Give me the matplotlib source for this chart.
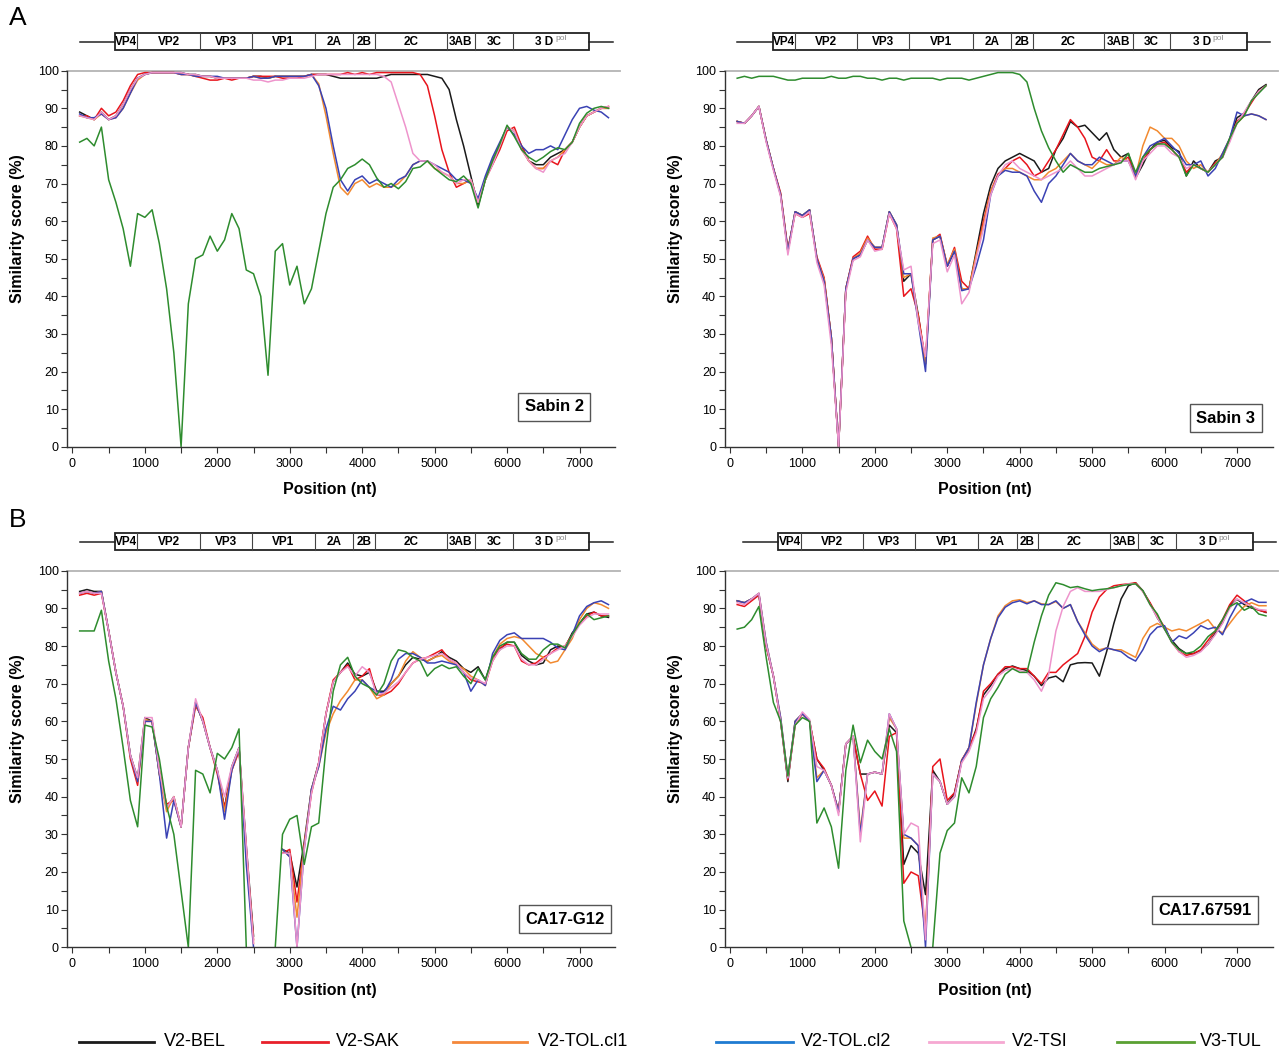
import numpy as np
import matplotlib.pyplot as plt
from matplotlib.patches import Rectangle
from matplotlib.lines import Line2D
from matplotlib.ticker import MultipleLocator

plt.rcParams['font.family'] = ['Liberation Sans', 'DejaVu Sans']

nan = np.nan
# window position (nt), one value every 100 nt
pos = np.arange(100, 7500, 100)

# ---------------- Sabin 2 ----------------
s2_bel = [89, 88, 87, 89, 87, 88, 91, 95, 98, 99,
          99.5, 99.5, 99.5, 99.5, 99.5, 99, 99, 98.5, 98.5, 98,
          98, 98, 98, 98, 98.5, 98.5, 98, 98.5, 98.5, 98.5,
          98.5, 98.5, 99, 99, 99, 98.5, 98, 98, 98, 98,
          98, 98, 98.5, 99, 99, 99, 99, 99, 99, 98.5,
          98, 95, 87, 80, 72, 64, 71, 76, 80, 85,
          84, 80, 76, 75, 75, 77, 78, 79, 81, 85,
          88, 89, 90, 90]
s2_sak = [88, 88, 87, 90, 88, 89, 92, 96, 99, 99.5,
          99.5, 99.5, 99.5, 99.5, 99, 99, 98.5, 98, 97.5, 97.5,
          98, 97.5, 98, 98, 98.5, 98.5, 98.5, 98.5, 98, 98,
          98, 98.5, 99, 99, 99, 99, 99, 99.5, 99, 99.5,
          99, 99.5, 99.5, 99.5, 99.5, 99.5, 99.5, 99, 96, 88,
          79, 73, 69, 70, 71, 65, 71, 75, 79, 84,
          85, 80, 76, 74, 74, 76, 75, 79, 81, 85,
          88, 89, 90, 90.5]
s2_tol1 = [88, 87.5, 87, 88.5, 87, 87.5, 90, 94, 97.5, 99,
           99.5, 99.5, 99.5, 99.5, 99, 99, 98.5, 98.5, 98.5, 98,
           98, 98, 98, 98, 98.5, 98, 98, 98.5, 98.5, 98.5,
           98.5, 98.5, 99, 96.5, 88, 78, 69, 67, 70, 71,
           69, 70, 69, 69, 70, 72, 75, 76, 76, 74,
           73, 72, 70, 70, 71, 65, 71, 76, 80, 85,
           84, 79, 76, 74, 74, 76, 77, 79, 81, 85,
           88, 89, 90, 90]
s2_tol2 = [88.5, 87.5, 87.5, 88.5, 87, 87.5, 90, 94, 98, 99,
           99.5, 99.5, 99.5, 99.5, 99, 99, 98.5, 98.5, 98.5, 98.5,
           98, 98, 98, 98, 98.5, 98, 98, 98.5, 98.5, 98.5,
           98.5, 98.5, 99, 96, 90, 80, 71, 68, 71, 72,
           70, 71, 70, 69, 71, 72, 75, 76, 76, 75,
           74, 73, 71, 71, 70, 66, 72, 77, 81, 85,
           83, 80, 78, 79, 79, 80, 79, 83, 87, 90,
           90.5, 89.5, 89, 87.5]
s2_tsi = [88, 87.5, 87, 89, 87, 88, 91, 95, 98, 99,
          99.5, 99.5, 99.5, 99.5, 99.5, 99, 99, 98.5, 98.5, 98,
          98, 98, 98, 98, 97.5, 97.5, 97, 97.5, 97.5, 98,
          98, 98, 98.5, 99, 99, 99, 99, 99, 99, 99,
          99, 99, 98.5, 97, 91, 85, 78, 76, 76, 75,
          73, 72, 70, 71, 71, 65, 71, 75, 80, 85,
          84, 79, 76, 74, 73, 76, 77, 78, 81, 85,
          88, 89, 90, 90.5]
s2_tul = [81, 82, 80, 85, 71, 65, 58, 48, 62, 61,
          63, 54, 42, 25, 0, 38, 50, 51, 56, 52,
          55, 62, 58, 47, 46, 40, 19, 52, 54, 43,
          48, 38, 42, 52, 62, 69, 71, 74, 75, 76.5,
          75, 71.5, 69, 70, 68.6, 70.5, 74, 74.4, 76, 74,
          72.5, 71, 70.5, 72, 70, 63.5, 71, 76, 80.5, 85.5,
          82.5, 79, 77, 75.8, 77, 78.5, 79.5, 79, 81, 86,
          88.7, 90, 90.5, 90]

# ---------------- Sabin 3 ----------------
s3_bel = [86.5, 86, 88, 90.5, 81.5, 74, 67, 52, 62.5, 61.5,
          63, 50, 44.5, 29, 0, 42, 50, 51, 55, 53,
          53, 62.5, 59, 44, 46, 35, 22, 55, 56, 48,
          52, 42, 42, 52, 62, 69.5, 74, 76, 77, 78,
          77, 76, 73, 74, 79, 82, 86.5, 85, 85.5, 83.5,
          81.5, 83.5, 79, 77, 78, 71.5, 75, 79, 81, 81.5,
          79.5, 78.5, 72, 76, 74, 73, 76, 77, 82, 87.5,
          88.7, 92, 95, 96.3]
s3_sak = [86.5, 86, 88, 90.5, 81.5, 74, 67.5, 52.5, 62, 61,
          62, 50.5, 45, 29, 0, 42, 50.5, 52, 56, 52.5,
          52.5, 62, 58, 40, 42, 35, 23, 55, 56.5, 48,
          53, 44, 42, 51, 60, 68, 72.5, 74, 76, 77,
          75, 72, 73, 76, 79, 83, 87, 85, 82, 77,
          76, 79, 76, 76, 77, 72, 76, 79, 80.5, 81,
          79, 77, 73, 75, 74, 73, 75.5, 77, 81.5, 86.5,
          88.5, 91.5, 94.5, 96]
s3_tol1 = [86.5, 86, 88, 90.5, 81.5, 74, 67, 52, 62.5, 61.5,
           63, 50, 44.5, 29, 0, 42, 50, 51.5, 55.5, 53,
           53, 62.5, 59, 45, 46, 34, 22, 55.5, 56, 48.5,
           52.5, 42, 42, 51, 59, 68, 72, 74, 74, 73,
           72, 71, 71, 73, 74, 76, 78, 76, 75, 74,
           76, 75, 75, 77, 76, 72, 80, 85, 84, 82,
           82, 80, 76, 74, 75, 73, 75, 78, 82, 86,
           88, 88.5, 88, 87]
s3_tol2 = [86.5, 86, 88, 90.5, 81.5, 74, 67, 52, 62.5, 61.5,
           63, 50, 44, 29, 0, 42, 50, 51, 55, 53,
           53, 62.5, 59, 46, 46, 33, 20, 55, 56, 48,
           52, 41.5, 42, 48, 55, 67, 72, 73.5, 73, 73,
           72, 68, 65, 70, 72, 75, 78, 76, 75, 75,
           77, 76, 75, 76, 76, 72, 77, 80, 81, 82,
           80, 78, 75, 75, 76, 72, 74, 78, 82, 89,
           88, 88.5, 88, 87]
s3_tsi = [86, 86, 88, 90.5, 81, 73.5, 66.5, 51, 62, 61,
          62.5, 49, 43, 27, 0, 41, 49.5, 50.5, 55, 52,
          52.5, 62, 58, 47, 48, 33, 24, 54, 55, 46.5,
          51, 38, 41, 50, 58, 67, 72, 75, 76, 74,
          73, 72, 71, 72, 73, 74, 76, 74, 72, 72,
          73, 74, 75, 76, 76, 71, 76, 78, 80, 80,
          78, 77, 74, 75, 74, 73, 75, 77, 81, 86,
          89, 92, 94.5, 96]
s3_tul = [98, 98.5, 98, 98.5, 98.5, 98.5, 98, 97.5, 97.5, 98,
          98, 98, 98, 98.5, 98, 98, 98.5, 98.5, 98, 98,
          97.5, 98, 98, 97.5, 98, 98, 98, 98, 97.5, 98,
          98, 98, 97.5, 98, 98.5, 99, 99.5, 99.5, 99.5, 99,
          97, 90, 84, 79.5, 76, 73, 75, 74, 73, 73,
          74, 74.5, 75, 75.5, 78, 73, 77, 79, 80.5, 80.5,
          79, 77, 72, 75, 74, 73, 75, 77, 82, 86,
          88, 92, 94, 96]

# ---------------- CA17-G12 ----------------
g12_bel = [94.5, 95, 94.5, 94.5, 84, 73, 64, 51, 45, 61,
           60, 46, 37, 40, 32, 53, 65, 60, 53, 47,
           37, 48, 53, 27, 3, nan, nan, nan, 26, 25,
           16, 28, 42, 49, 62, 70.5, 73, 75.5, 72.5, 72,
           73, 68, 68, 70, 72, 75, 77, 76.5, 76, 77,
           78.5, 77, 76, 74, 73, 74.5, 71, 77, 79, 81,
           81, 77.5, 76, 75, 75.5, 79, 80, 79.6, 83.5, 86,
           88.5, 89, 88, 87.6]
g12_sak = [93.5, 94, 93.5, 94, 84, 73, 64, 50, 43, 60,
           60, 47, 38, 39, 32, 53, 64, 61, 53, 46,
           37, 47, 52, 26, 2, nan, nan, nan, 25, 26,
           12, 27, 41, 49, 62, 71, 73, 75, 71, 72,
           74, 67, 67, 68, 70, 73, 75.5, 76.5, 77, 78,
           79, 76.5, 75.5, 73, 71, 70.5, 70, 76, 79.5, 80.5,
           80, 76, 75, 75.5, 77, 78, 79.5, 80, 83, 86,
           88, 89, 88, 88]
g12_tol1 = [94, 94.5, 94, 94.5, 84, 73, 64, 51, 44, 60.5,
            60, 46, 36, 40, 32, 53, 65, 60, 53, 47,
            36, 47, 53, 25, 1, nan, nan, nan, 26, 24,
            8, 27, 42, 48, 57, 62, 65.5, 68, 71, 71,
            69, 66, 67, 70, 72, 76, 78.5, 77, 76, 77,
            77.5, 76, 75, 74, 72, 71, 69.5, 77, 80.5, 82,
            82.5, 82, 80, 78, 77, 75.5, 76, 79, 82, 87,
            90, 91.5, 91, 90]
g12_tol2 = [94, 94.5, 94, 94.5, 84, 73, 64, 51, 44, 60,
            60, 46, 29, 39, 32, 53, 65, 60, 53, 47,
            34, 47, 53, 22, 0, nan, nan, nan, 26, 24,
            0, 26, 42, 48, 58, 64, 63, 66, 68, 71,
            69, 68, 67.5, 71, 76.5, 78, 78, 77, 75.5, 75.5,
            76, 75.5, 75, 73, 68, 71, 69.5, 78, 81.5, 83,
            83.5, 82, 82, 82, 82, 81, 79.5, 79, 83, 88,
            90.5, 91.5, 92, 91]
g12_tsi = [94, 94.5, 94, 94, 84, 73, 64, 51, 45, 61,
           61, 47, 37, 40, 32, 53, 66, 60, 53, 47,
           40, 48, 53, 27, 1, nan, nan, nan, 25, 25,
           0, 26, 41, 49, 62, 70.5, 73, 74.5, 72, 74.5,
           73, 67, 67.5, 69, 70.5, 73, 75.5, 76.5, 77, 77.5,
           78, 76.5, 75.5, 73, 71.5, 71, 70, 76, 79, 80,
           80, 76.5, 75, 75, 76.5, 78, 79, 80, 82.5, 85.5,
           87.5, 88.5, 88.5, 88.5]
g12_tul = [84, 84, 84, 89.5, 76, 66, 53, 39, 32, 59,
           58.5, 50, 37.5, 30, 15, 0, 47, 46, 41, 51.5,
           50, 53, 58, 0, nan, nan, nan, 0, 30, 34,
           35, 22, 32, 33, 53, 68, 75, 77, 72, 70,
           69, 67, 70, 76, 79, 78.5, 77, 76, 72, 74,
           75, 74, 74.5, 72, 70, 74, 71, 77, 80, 81,
           81, 78, 76.5, 76.5, 79, 80.5, 80.5, 79.5, 83, 86,
           88.5, 87, 87.5, 88]

# ---------------- CA17.67591 ----------------
c91_bel = [92, 91.5, 92.5, 93.5, 80, 72, 60, 44, 60, 62,
           60, 50, 47, 43, 36, 54, 56, 46, 46, 46.5,
           46, 59, 57, 22, 27, 25, 14, 47, 44, 38,
           41, 49.7, 52.5, 58, 67, 69.5, 72.5, 74, 74.7, 74,
           73.5, 72, 69.5, 71.5, 72, 70.5, 75, 75.5, 75.6, 75.5,
           72, 78.5, 86, 92.5, 96, 96.8, 94.7, 91.3, 87.5, 84.5,
           81.5, 79.3, 78, 78, 78.8, 80.5, 83.4, 86.2, 90.7, 92.4,
           91, 90.1, 89.6, 88.9]
c91_sak = [91, 90.5, 92, 93.5, 80, 72, 60, 44.5, 59, 62,
           60, 50, 47.5, 43, 36, 54, 56, 46, 39, 41.5,
           37.5, 56, 57, 17, 20, 19, 4, 48, 50, 39,
           41, 49.7, 53, 57.5, 68, 70, 72.5, 74.5, 74.5, 74,
           74, 72, 70, 73, 73, 75, 76.5, 78, 82.5, 89,
           93, 95, 96, 96.3, 96.5, 96.8, 94.5, 91.5, 88, 85,
           81, 78.5, 77.5, 78, 79, 81.5, 84, 87, 91, 93.5,
           92, 90.5, 89.5, 89]
c91_tol1 = [92, 91.5, 92.5, 94, 81, 72, 61, 45, 60, 62,
            60, 45, 47, 43, 36, 54, 56, 31, 46, 46.5,
            46, 61, 58, 29, 29, 27, 3, 46, 44, 38,
            40, 49.5, 53, 64.5, 75, 82, 88, 90.7, 92, 92.3,
            91.5, 92, 91.2, 91, 91.8, 90, 91, 86.5, 83.5, 80.5,
            79, 79.5, 79, 79, 78, 77, 82, 85, 86, 85,
            84, 84.5, 84, 85, 86, 87, 84.5, 83.5, 86, 88.5,
            90.5, 91.5, 90.7, 90.7]
c91_tol2 = [92, 91.5, 92.5, 94, 81, 72, 61, 45, 60, 62,
            60, 44, 47, 43, 36, 54, 56, 30, 46, 46.5,
            46, 62, 58, 30, 29, 27, 0, 46, 44, 38,
            40, 49.5, 53, 65, 75, 82, 87.5, 90.3, 91.5, 92,
            91.2, 92, 91, 91, 92, 90, 91, 86.5, 83, 80,
            78.5, 79.5, 79, 78.5, 77, 76, 79, 83, 85, 85.4,
            81, 82.7, 82, 83.5, 85.4, 84.5, 85, 83, 87.5, 91,
            91.6, 92.5, 91.6, 91.6]
c91_tsi = [91.5, 91, 92.5, 94, 80.5, 72, 60, 45, 59, 62.5,
           60.5, 48, 47, 43, 35, 54, 56, 28, 46, 46.5,
           46, 62, 58, 30, 33, 32, 2, 46, 44, 38,
           40, 49, 52, 57, 66, 68.5, 72, 73.5, 74, 73.5,
           73, 71, 68, 72.5, 84, 90.5, 94.5, 95.5, 94.5, 94.5,
           94.5, 95, 95.5, 96, 96.5, 96.5, 94.5, 91, 87.5, 84.5,
           81, 78.5, 77, 77.5, 78.5, 80.5, 83, 86, 90, 92.5,
           91.5, 90.5, 89.7, 89.5]
c91_tul = [84.5, 85, 87, 90.5, 77, 65, 60, 45.5, 59, 61,
           60, 33, 37, 32, 21, 47, 59, 49, 55, 52,
           50, 58, 52, 7, 0, nan, nan, 0, 25, 31,
           33, 45, 41, 48, 61, 66, 69, 72.5, 74, 73,
           73, 81, 88, 93.5, 96.8, 96.3, 95.5, 95.8, 95.2, 94.7,
           95, 95.2, 95.5, 96, 96.3, 96.5, 94.7, 91, 88.5, 84.5,
           81, 79, 78, 78.5, 80, 82.5, 84, 87, 90.5, 91.5,
           89.5, 90.5, 88.5, 88]

strains = ['V2-BEL', 'V2-SAK', 'V2-TOL.cl1', 'V2-TOL.cl2', 'V2-TSI', 'V3-TUL']
line_cols = ['#1a1a1a', '#e8141c', '#f28a30', '#3a42b4', '#ee94cc', '#2e8c2e']
legend_cols = ['#1a1a1a', '#e8202a', '#f4883a', '#1f7bd1', '#f6a8d2', '#5aa032']

regions = ['VP4', 'VP2', 'VP3', 'VP1', '2A', '2B', '2C', '3AB', '3C', '3 D']
region_edges = [590, 897, 1760, 2476, 3349, 3880, 4179, 5168, 5559, 6079, 7135]
genome_ends = [100, 7458]

W, H = 1283.0, 1054.0


def rect(l, t, r, b):
    return [l / W, 1 - b / H, (r - l) / W, (b - t) / H]


panels = [
    ([s2_bel, s2_sak, s2_tol1, s2_tol2, s2_tsi, s2_tul], 'Sabin 2',
     rect(67, 70.7, 615, 446.7), rect(67, 33.3, 615, 50), (0.889, 0.106), 0, 0.48),
    ([s3_bel, s3_sak, s3_tol1, s3_tol2, s3_tsi, s3_tul], 'Sabin 3',
     rect(724.5, 70.7, 1272.5, 446.7), rect(724.5, 33.3, 1272.5, 50), (0.915, 0.076), 0, 0.475),
    ([g12_bel, g12_sak, g12_tol1, g12_tol2, g12_tsi, g12_tul], 'CA17-G12',
     rect(67, 570.7, 615, 947.3), rect(67, 533.3, 615, 550), (0.909, 0.075), 0, 0.48),
    ([c91_bel, c91_sak, c91_tol1, c91_tol2, c91_tsi, c91_tul], 'CA17.67591',
     rect(724.5, 570.7, 1272.5, 947.3), rect(724.5, 533.3, 1272.5, 550), (0.877, 0.099), 80, 0.475),
]

fig = plt.figure(figsize=(12.83, 10.54), dpi=100)

for series, name, r_main, r_map, boxpos, shift, xlx in panels:
    ax = fig.add_axes(r_main)
    for y, c in zip(series, line_cols):
        ax.plot(pos, y, color=c, lw=1.1)
    ax.axhline(100, color='#b4b4b4', lw=1.3, zorder=0, xmax=1.01, clip_on=False)
    ax.set_xlim(-75, 7490)
    ax.set_ylim(0, 100)
    ax.set_xticks(range(0, 8000, 1000))
    ax.xaxis.set_minor_locator(MultipleLocator(500))
    ax.set_yticks(range(0, 101, 10))
    ax.yaxis.set_minor_locator(MultipleLocator(5))
    ax.tick_params(which='both', direction='out', length=4, width=0.8,
                   color='#333333', labelsize=9, pad=2)
    ax.tick_params(axis='x', pad=4)
    for s in ['top', 'right']:
        ax.spines[s].set_visible(False)
    for s in ['left', 'bottom']:
        ax.spines[s].set_color('#333333')
        ax.spines[s].set_linewidth(1.0)
    ax.set_ylabel('Similarity score (%)', fontsize=11.5, fontweight='bold')
    ax.yaxis.set_label_coords(-0.076, 0.58)
    ax.set_xlabel('Position (nt)', fontsize=11.5, fontweight='bold')
    ax.xaxis.set_label_coords(xlx, -0.095)
    ax.text(boxpos[0], boxpos[1], name, transform=ax.transAxes, ha='center', va='center',
            fontsize=12, fontweight='bold',
            bbox=dict(boxstyle='square,pad=0.4', fc='white', ec='#555555', lw=1))

    # genome map above the panel
    gm = fig.add_axes(r_map)
    gm.set_xlim(-75, 7490)
    gm.set_ylim(0, 1)
    gm.axis('off')
    e = [v + shift for v in region_edges]
    gm.plot([genome_ends[0] + shift, e[0]], [0.5, 0.5], color='#222222', lw=1.1, clip_on=False)
    gm.plot([e[-1], genome_ends[1] + shift], [0.5, 0.5], color='#222222', lw=1.1, clip_on=False)
    gm.add_patch(Rectangle((e[0], 0), e[-1] - e[0], 1, fill=False, ec='#222222', lw=1.3,
                           clip_on=False))
    for xe in e[1:-1]:
        gm.plot([xe, xe], [0, 1], color='#444444', lw=0.8, clip_on=False)
    for i, lab in enumerate(regions):
        xc = (e[i] + e[i + 1]) / 2
        if lab == '3 D':
            gm.text(xc - 90, 0.48, lab, ha='center', va='center',
                    fontsize=8.5, fontweight='bold', clip_on=False)
            gm.text(xc + 55, 0.66, 'pol', ha='left', va='center',
                    fontsize=6, color='#888888', clip_on=False)
        else:
            gm.text(xc, 0.48, lab, ha='center', va='center',
                    fontsize=8.5, fontweight='bold', clip_on=False)

fig.text(18 / W, 1 - 18 / H, 'A', fontsize=19, ha='center', va='center')
fig.text(18 / W, 1 - 520 / H, 'B', fontsize=19, ha='center', va='center')

# legend along the bottom
leg_lines = [(79, 154), (262, 328), (453, 527), (716, 793), (929, 1003), (1117, 1194)]
leg_text = [164, 336, 538, 801, 1012, 1200]
ly = 1 - 1042 / H
for (x0, x1), tx, lab, c in zip(leg_lines, leg_text, strains, legend_cols):
    fig.add_artist(Line2D([x0 / W, x1 / W], [ly, ly], transform=fig.transFigure,
                          color=c, lw=2.0))
    fig.text(tx / W, ly, lab, fontsize=13, ha='left', va='center')

fig.savefig('out.png', dpi=100)
